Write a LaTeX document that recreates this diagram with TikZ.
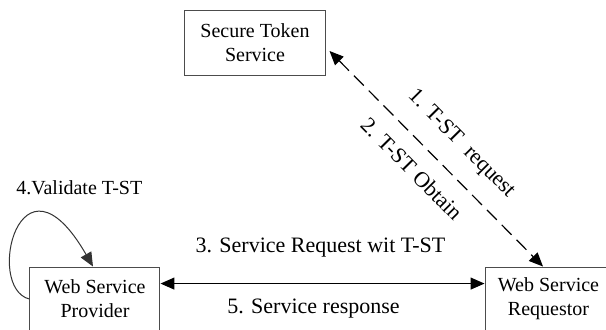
\documentclass[tikz,border=0pt]{standalone}
\usepackage{fontspec}
\setmainfont{Liberation Serif}
\usetikzlibrary{arrows.meta,positioning}

\begin{document}
\begin{tikzpicture}[
	box/.style={draw=black!70, line width=0.5pt, align=center, inner sep=0pt,
		font=\fontsize{10}{12}\selectfont},
	tips/.style={{Triangle[length=7pt,width=6pt]}-{Triangle[length=7pt,width=6pt]}},
	tip/.style={-{Triangle[length=7pt,width=6pt]}},
	msg/.style={font=\fontsize{11}{13}\selectfont, anchor=base, inner sep=0pt}
	]
	\useasboundingbox (0,0) rectangle (10.649,5.782);
	\node[box, minimum width=2.495cm, minimum height=1.142cm] (sts) at (4.481,5.035) {Secure Token\\Service};
	\node[box, minimum width=2.285cm, minimum height=1.125cm] (prov) at (1.669,0.527) {Web Service\\Provider};
	\node[box, minimum width=2.232cm, minimum height=1.125cm] (req) at (9.639,0.527) {Web Service\\Requestor};
	\node[font=\fontsize{10}{12}\selectfont, anchor=base, inner sep=0pt] (valid) at (1.394,2.372) {4.Validate T-ST};
	\draw[tips, line width=0.6pt, dash pattern=on 7pt off 3.5pt] ([shift={(0.053,-0.149)}]sts.east) -- ([xshift=-0.097cm]req.north)
		node[msg, sloped, pos=0.523, yshift=11.5pt] {1. T-ST\ \ request}
		node[msg, sloped, pos=0.467, yshift=-16pt] {2. T-ST Obtain};
	\draw[tips, line width=0.6pt] ([yshift=0.272cm]prov.east) -- ([yshift=0.272cm]req.west)
		node[msg, midway, xshift=-1pt, yshift=15.5pt] {3. Service Request wit T-ST}
		node[msg, midway, xshift=-4.5pt, yshift=-15pt] {5. Service response};
	\draw[tip, black!80, line width=0.5pt] (prov.west) .. controls +(-0.791,0.193) and +(-1.283,2.232) .. ([xshift=-0.035cm]prov.north);
\end{tikzpicture}
\end{document}
